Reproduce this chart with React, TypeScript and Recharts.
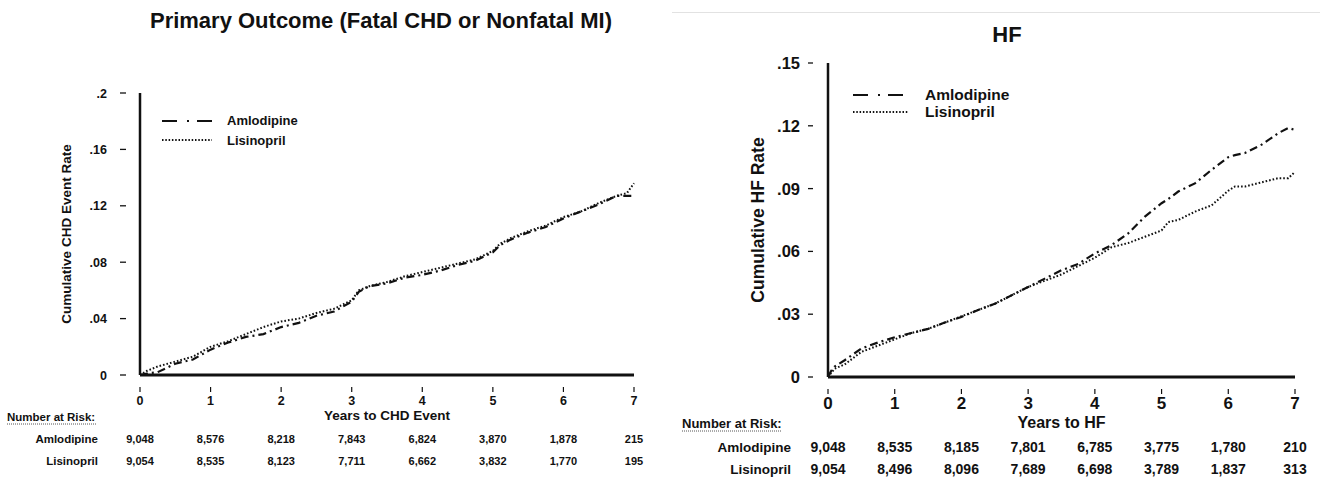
import React from 'react';
import { LineChart, Line, XAxis, YAxis } from 'recharts';

const FONT = '"Liberation Sans", Arial, Helvetica, sans-serif';
const INK = '#111';

// shared x-axis
const yearTicks = [0, 1, 2, 3, 4, 5, 6, 7];
const seriesNames = ['Amlodipine', 'Lisinopril'];

// left panel: primary outcome (fatal CHD or nonfatal MI)
const chdYears = [0, 0.1, 0.25, 0.5, 0.75, 1, 1.25, 1.5, 1.75, 2, 2.25, 2.5, 2.75, 3, 3.1, 3.25, 3.5, 3.75, 4, 4.25, 4.5, 4.75, 5, 5.1, 5.25, 5.5, 5.75, 6, 6.25, 6.5, 6.75, 6.9, 7];
const chdAmlodipine = [0, 0.001, 0.002, 0.008, 0.011, 0.018, 0.023, 0.027, 0.029, 0.034, 0.037, 0.042, 0.045, 0.052, 0.059, 0.063, 0.065, 0.069, 0.071, 0.074, 0.078, 0.081, 0.087, 0.092, 0.096, 0.101, 0.105, 0.111, 0.116, 0.121, 0.127, 0.127, 0.127];
const chdLisinopril = [0, 0.003, 0.006, 0.0095, 0.013, 0.02, 0.024, 0.029, 0.034, 0.038, 0.04, 0.044, 0.047, 0.053, 0.06, 0.063, 0.066, 0.07, 0.073, 0.076, 0.079, 0.082, 0.088, 0.093, 0.097, 0.102, 0.106, 0.112, 0.116, 0.122, 0.127, 0.129, 0.136];
const chdYTicks = [0, 0.04, 0.08, 0.12, 0.16, 0.2];
const chdYTickLabels = ['0', '.04', '.08', '.12', '.16', '.2'];
const chdRiskAmlodipine = ['9,048', '8,576', '8,218', '7,843', '6,824', '3,870', '1,878', '215'];
const chdRiskLisinopril = ['9,054', '8,535', '8,123', '7,711', '6,662', '3,832', '1,770', '195'];

// right panel: heart failure
const hfYears = [0, 0.05, 0.1, 0.25, 0.5, 0.75, 1, 1.25, 1.5, 1.75, 2, 2.25, 2.5, 2.75, 3, 3.25, 3.5, 3.75, 4, 4.25, 4.5, 4.75, 5, 5.1, 5.25, 5.5, 5.75, 6, 6.1, 6.25, 6.5, 6.75, 6.9, 7];
const hfAmlodipine = [0, 0.003, 0.005, 0.008, 0.0136, 0.0165, 0.019, 0.021, 0.023, 0.026, 0.0287, 0.032, 0.035, 0.039, 0.043, 0.047, 0.051, 0.054, 0.059, 0.063, 0.0686, 0.0766, 0.083, 0.085, 0.0886, 0.0925, 0.099, 0.105, 0.106, 0.107, 0.111, 0.1165, 0.119, 0.118];
const hfLisinopril = [0, 0.002, 0.004, 0.006, 0.012, 0.015, 0.018, 0.021, 0.023, 0.026, 0.029, 0.032, 0.035, 0.039, 0.043, 0.046, 0.049, 0.053, 0.057, 0.062, 0.064, 0.067, 0.07, 0.074, 0.075, 0.079, 0.082, 0.089, 0.091, 0.091, 0.093, 0.095, 0.095, 0.098];
const hfYTicks = [0, 0.03, 0.06, 0.09, 0.12, 0.15];
const hfYTickLabels = ['0', '.03', '.06', '.09', '.12', '.15'];
const hfRiskAmlodipine = ['9,048', '8,535', '8,185', '7,801', '6,785', '3,775', '1,780', '210'];
const hfRiskLisinopril = ['9,054', '8,496', '8,096', '7,689', '6,698', '3,789', '1,837', '313'];

const dashDot = '8 4 2 4';
const dotted = '1.6 2';
const legendDash = ['15 10 2 8 15', '1.5 1.8'];

type Sizes = {
  yTickFont: number; yDashFrom: number; yDashTo: number; yLabelGap: number;
  xTickFont: number; markTop: number; markBottom: number; xTickDy: number;
  riskFont: number; rowFont: number; rowA: number; rowL: number; rowLabelGap: number;
  narDx: number; narDy: number; narFont: number; narWidth: number;
  legendFont: number; legendRow: number; symW: number; symGap: number;
  legendLeft: number; legendTop: number;
  yLabelFont: number; yLabelDx: number; xLabelFont: number; xLabelOffset: number;
};

function YTick(props: any) {
  const { x, y, payload, s, labels, ticks } = props;
  const i = ticks.indexOf(payload.value);
  return (
    <g>
      <line x1={x - s.yDashFrom} x2={x - s.yDashTo} y1={y} y2={y} stroke={INK} strokeWidth={1.3} />
      <text x={x - s.yLabelGap} y={y} dy="0.36em" textAnchor="end" fontFamily={FONT} fontWeight="bold" fontSize={s.yTickFont} fill={INK}>
        {labels[i]}
      </text>
    </g>
  );
}

function XTick(props: any) {
  const { x, y, payload, s, riskA, riskL } = props;
  const i = yearTicks.indexOf(payload.value);
  const txt = { fontFamily: FONT, fontWeight: 'bold' as const, fill: INK };
  return (
    <g>
      <line x1={x} x2={x} y1={y + s.markTop} y2={y + s.markBottom} stroke={INK} strokeWidth={1.2} />
      <text x={x} y={y + s.xTickDy} textAnchor="middle" fontSize={s.xTickFont} {...txt}>{payload.value}</text>
      <text x={x} y={y + s.rowA} textAnchor="middle" fontSize={s.riskFont} {...txt}>{riskA[i]}</text>
      <text x={x} y={y + s.rowL} textAnchor="middle" fontSize={s.riskFont} {...txt}>{riskL[i]}</text>
      {i === 0 && (
        <g>
          <text x={x - s.narDx} y={y + s.narDy} fontSize={s.narFont} {...txt}>Number at Risk:</text>
          <line x1={x - s.narDx} x2={x - s.narDx + s.narWidth} y1={y + s.narDy + 3} y2={y + s.narDy + 3} stroke="#555" strokeWidth={1} strokeDasharray="1 1" />
          <text x={x - s.rowLabelGap} y={y + s.rowA} textAnchor="end" fontSize={s.rowFont} {...txt}>{seriesNames[0]}</text>
          <text x={x - s.rowLabelGap} y={y + s.rowL} textAnchor="end" fontSize={s.rowFont} {...txt}>{seriesNames[1]}</text>
        </g>
      )}
    </g>
  );
}

function KmLegend({ s }: { s: Sizes }) {
  return (
    <div style={{ position: 'absolute', left: s.legendLeft, top: s.legendTop, fontFamily: FONT, fontWeight: 'bold', fontSize: s.legendFont, color: INK }}>
      {seriesNames.map((n, i) => (
        <div key={n} style={{ display: 'flex', alignItems: 'center', height: s.legendRow }}>
          <svg width={s.symW} height={6} style={{ display: 'block' }}>
            <line x1={0} x2={s.symW} y1={3} y2={3} stroke={INK} strokeWidth={i === 0 ? 2.2 : 1.8} strokeDasharray={legendDash[i]} />
          </svg>
          <span style={{ marginLeft: s.symGap, lineHeight: 1 }}>{n}</span>
        </div>
      ))}
    </div>
  );
}

type PanelProps = {
  left: number; width: number; height: number;
  margin: { top: number; right: number; left: number; bottom: number };
  yAxisWidth: number; xAxisHeight: number;
  years: number[]; amlodipine: number[]; lisinopril: number[];
  yTicks: number[]; yTickLabels: string[];
  riskA: string[]; riskL: string[];
  yLabel: string; xLabel: string; s: Sizes;
};

function KmPanel(p: PanelProps) {
  const data = p.years.map((t, i) => ({ t, amlodipine: p.amlodipine[i], lisinopril: p.lisinopril[i] }));
  const yMax = p.yTicks[p.yTicks.length - 1];
  const s = p.s;
  return (
    <div style={{ position: 'absolute', left: p.left, top: 0, width: p.width, height: p.height }}>
      <LineChart width={p.width} height={p.height} data={data} margin={p.margin} style={{ overflow: 'visible' }}>
        <XAxis
          dataKey="t"
          type="number"
          domain={[0, 7]}
          ticks={yearTicks}
          height={p.xAxisHeight}
          axisLine={{ stroke: INK, strokeWidth: 3 }}
          tickLine={false}
          tickSize={0}
          tickMargin={0}
          interval={0}
          tick={(tp: any) => <XTick {...tp} s={s} riskA={p.riskA} riskL={p.riskL} />}
          label={{ value: p.xLabel, position: 'insideTop', offset: s.xLabelOffset, style: { fontFamily: FONT, fontWeight: 'bold', fontSize: s.xLabelFont, fill: INK } }}
        />
        <YAxis
          type="number"
          domain={[0, yMax]}
          ticks={p.yTicks}
          width={p.yAxisWidth}
          axisLine={{ stroke: INK, strokeWidth: 2.5 }}
          tickLine={false}
          tickSize={0}
          tickMargin={0}
          interval={0}
          tick={(tp: any) => <YTick {...tp} s={s} labels={p.yTickLabels} ticks={p.yTicks} />}
          label={{ value: p.yLabel, angle: -90, position: 'center', dx: s.yLabelDx, style: { fontFamily: FONT, fontWeight: 'bold', fontSize: s.yLabelFont, fill: INK } }}
        />
        <Line dataKey="amlodipine" name="Amlodipine" type="linear" stroke={INK} strokeWidth={2.2} strokeDasharray={dashDot} dot={false} isAnimationActive={false} />
        <Line dataKey="lisinopril" name="Lisinopril" type="linear" stroke={INK} strokeWidth={2} strokeDasharray={dotted} dot={false} isAnimationActive={false} />
      </LineChart>
      <KmLegend s={s} />
    </div>
  );
}

const leftSizes: Sizes = {
  yTickFont: 12.5, yDashFrom: 20, yDashTo: 14, yLabelGap: 33,
  xTickFont: 12.5, markTop: 12, markBottom: 17, xTickDy: 29.5,
  riskFont: 11, rowFont: 11.5, rowA: 68, rowL: 90, rowLabelGap: 42,
  narDx: 133, narDy: 46, narFont: 11.5, narWidth: 90,
  legendFont: 13, legendRow: 19.5, symW: 50, symGap: 15,
  legendLeft: 162, legendTop: 111,
  yLabelFont: 13.5, yLabelDx: -4, xLabelFont: 13.5, xLabelOffset: 35,
};

const rightSizes: Sizes = {
  yTickFont: 16.5, yDashFrom: 20, yDashTo: 15, yLabelGap: 28,
  xTickFont: 17, markTop: 12, markBottom: 17, xTickDy: 32,
  riskFont: 14, rowFont: 13.5, rowA: 75, rowL: 97, rowLabelGap: 37,
  narDx: 146, narDy: 51, narFont: 13, narWidth: 100,
  legendFont: 15.5, legendRow: 17, symW: 55, symGap: 17,
  legendLeft: 186, legendTop: 86,
  yLabelFont: 17.5, yLabelDx: 10, xLabelFont: 16, xLabelOffset: 40,
};

export default function App() {
  return (
    <div style={{ position: 'absolute', left: 0, top: 0, width: 1333, height: 477, background: '#fff', overflow: 'hidden' }}>
      <div style={{ position: 'absolute', left: 131, top: 8, width: 500, whiteSpace: 'nowrap', fontFamily: FONT, fontWeight: 'bold', fontSize: 22, color: INK, display: 'flex', justifyContent: 'center' }}>
        Primary Outcome (Fatal CHD or Nonfatal MI)
      </div>
      <div style={{ position: 'absolute', left: 672, top: 12, width: 648, height: 1, background: '#e2e2e2' }} />
      <div style={{ position: 'absolute', left: 957, top: 22, width: 100, textAlign: 'center', fontFamily: FONT, fontWeight: 'bold', fontSize: 22, color: INK }}>
        HF
      </div>
      <KmPanel
        left={0} width={666} height={477}
        margin={{ top: 93, right: 32, left: 0, bottom: 0 }}
        yAxisWidth={140} xAxisHeight={102}
        years={chdYears} amlodipine={chdAmlodipine} lisinopril={chdLisinopril}
        yTicks={chdYTicks} yTickLabels={chdYTickLabels}
        riskA={chdRiskAmlodipine} riskL={chdRiskLisinopril}
        yLabel="Cumulative CHD Event Rate" xLabel="Years to CHD Event" s={leftSizes}
      />
      <KmPanel
        left={667} width={666} height={477}
        margin={{ top: 63, right: 38, left: 0, bottom: 0 }}
        yAxisWidth={161} xAxisHeight={100}
        years={hfYears} amlodipine={hfAmlodipine} lisinopril={hfLisinopril}
        yTicks={hfYTicks} yTickLabels={hfYTickLabels}
        riskA={hfRiskAmlodipine} riskL={hfRiskLisinopril}
        yLabel="Cumulative HF Rate" xLabel="Years to HF" s={rightSizes}
      />
    </div>
  );
}
